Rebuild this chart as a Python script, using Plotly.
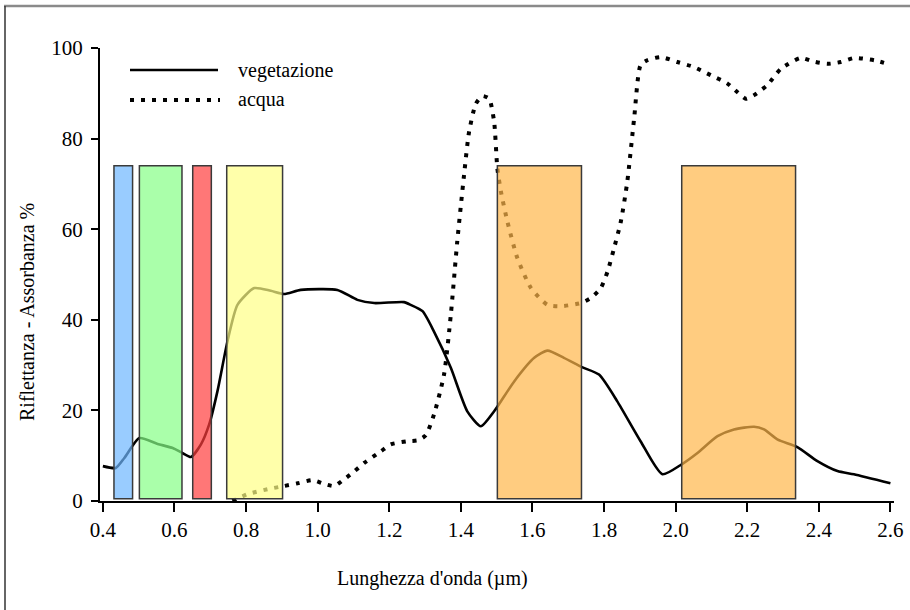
import plotly.graph_objects as go

# ---------------- data ----------------
veg_x = [0.40, 0.436, 0.46, 0.502, 0.553, 0.595, 0.622, 0.646, 0.674, 0.697, 0.72, 0.748,
         0.776, 0.823, 0.869, 0.906, 0.953, 1.055, 1.111, 1.158, 1.241, 1.26, 1.293, 1.325,
         1.372, 1.418, 1.456, 1.493, 1.549, 1.605, 1.642, 1.688, 1.74, 1.786, 1.837, 1.902,
         1.963, 2.017, 2.061, 2.117, 2.163, 2.219, 2.247, 2.284, 2.34, 2.396, 2.452, 2.498, 2.6]
veg_y = [7.7, 7.3, 9.5, 13.9, 12.6, 11.7, 10.6, 9.7, 12.5, 16.9, 24.2, 35.2,
         43.3, 47.0, 46.4, 45.7, 46.6, 46.6, 44.4, 43.7, 43.9, 43.3, 41.9, 37.4,
         29.4, 19.8, 16.5, 19.8, 26.4, 31.6, 33.2, 31.6, 29.5, 27.9, 22.0, 13.2,
         5.9, 8.1, 10.6, 14.3, 15.8, 16.4, 15.8, 13.6, 11.9, 8.8, 6.6, 5.9, 3.9]

wat_x = [0.762, 0.804, 0.86, 0.906, 0.944, 0.986, 1.013, 1.046, 1.074, 1.102, 1.13, 1.177,
         1.204, 1.251, 1.28, 1.302, 1.325, 1.353, 1.372, 1.39, 1.409, 1.423, 1.442, 1.46,
         1.479, 1.493, 1.502, 1.512, 1.53, 1.558, 1.596, 1.642, 1.679, 1.735, 1.763, 1.791,
         1.81, 1.828, 1.847, 1.865, 1.884, 1.902, 1.921, 1.958, 2.005, 2.051, 2.098, 2.144,
         2.172, 2.196, 2.219, 2.256, 2.294, 2.349, 2.386, 2.424, 2.461, 2.499, 2.555, 2.592]
wat_y = [0.0, 1.5, 2.6, 3.3, 3.9, 4.6, 3.9, 3.3, 4.8, 6.5, 8.4, 11.0,
         12.5, 13.2, 13.4, 14.5, 19.1, 27.9, 41.1, 57.3, 72.0, 81.5, 87.7, 89.4,
         88.8, 83.7, 73.4, 68.3, 61.7, 53.6, 47.0, 43.3, 43.0, 43.7, 44.8, 47.0,
         50.7, 55.8, 61.7, 70.5, 84.4, 96.2, 97.3, 98.0, 96.9, 95.8, 94.0, 92.2,
         90.3, 88.8, 89.6, 91.8, 95.4, 97.8, 97.0, 96.5, 96.9, 97.8, 97.3, 96.5]

band_start = [0.431, 0.502, 0.651, 0.746, 1.502, 2.017]
band_end = [0.483, 0.621, 0.703, 0.902, 1.737, 2.335]
band_low = 0.5
band_high = 74.0
band_colors = ["rgb(109,182,255)", "rgb(134,255,134)", "rgb(255,61,61)",
               "rgb(255,255,134)", "rgb(255,182,74)", "rgb(255,182,74)"]

x_ticks = [0.4, 0.6, 0.8, 1.0, 1.2, 1.4, 1.6, 1.8, 2.0, 2.2, 2.4, 2.6]
x_ticktext = ["0.4", "0.6", "0.8", "1.0", "1.2", "1.4", "1.6", "1.8", "2.0", "2.2", "2.4", "2.6"]
y_ticks = [0, 20, 40, 60, 80, 100]

series_names = ["vegetazione", "acqua"]
x_title = "Lunghezza d'onda (µm)"
y_title = "Riflettanza - Assorbanza %"

FONT = "Liberation Serif"
DOT = "4px,7px"

fig = go.Figure()
fig.add_trace(go.Scatter(x=veg_x, y=veg_y, mode="lines", name=series_names[0],
                         line=dict(color="black", width=2.6, shape="spline", smoothing=0.6),
                         showlegend=False))
fig.add_trace(go.Scatter(x=wat_x, y=wat_y, mode="lines", name=series_names[1],
                         line=dict(color="black", width=4, dash=DOT, shape="spline", smoothing=0.6),
                         showlegend=False))

shapes = []
for x0, x1, c in zip(band_start, band_end, band_colors):
    shapes.append(dict(type="rect", xref="x", yref="y", x0=x0, x1=x1, y0=band_low, y1=band_high,
                       fillcolor=c, opacity=0.7, line=dict(width=0), layer="above"))
    shapes.append(dict(type="rect", xref="x", yref="y", x0=x0, x1=x1, y0=band_low, y1=band_high,
                       fillcolor="rgba(0,0,0,0)", line=dict(color="#3a3a3a", width=1.5), layer="above"))

# pixel -> paper helpers (plot area: x 100..894, y 48..501)
def px(v):
    return (v - 100) / 794.0

def py(v):
    return (501 - v) / 453.0

# outer frame (top gray, left dark)
shapes.append(dict(type="line", xref="paper", yref="paper", x0=px(4), x1=px(912), y0=py(6), y1=py(6),
                   line=dict(color="#8a8a8a", width=2.5)))
shapes.append(dict(type="line", xref="paper", yref="paper", x0=px(5), x1=px(5), y0=py(6), y1=py(612),
                   line=dict(color="#333333", width=1.5)))

# legend samples
shapes.append(dict(type="line", xref="paper", yref="paper", x0=px(130), x1=px(218), y0=py(70), y1=py(70),
                   line=dict(color="black", width=2.6)))
shapes.append(dict(type="line", xref="paper", yref="paper", x0=px(130), x1=px(220), y0=py(100), y1=py(100),
                   line=dict(color="black", width=4, dash=DOT)))

annotations = [
    dict(xref="paper", yref="paper", x=px(236), y=py(70), text=series_names[0], showarrow=False,
         xanchor="left", yanchor="middle", font=dict(family=FONT, size=20, color="black")),
    dict(xref="paper", yref="paper", x=px(236), y=py(99), text=series_names[1], showarrow=False,
         xanchor="left", yanchor="middle", font=dict(family=FONT, size=20, color="black")),
    dict(xref="paper", yref="paper", x=px(432), y=py(578), text=x_title, showarrow=False,
         xanchor="center", yanchor="middle", font=dict(family=FONT, size=20, color="black")),
    dict(xref="paper", yref="paper", x=px(27), y=py(312), text=y_title, showarrow=False, textangle=-90,
         xanchor="center", yanchor="middle", font=dict(family=FONT, size=20, color="black")),
]

fig.update_layout(
    template="none",
    width=910, height=610,
    margin=dict(l=100, r=16, t=48, b=109, pad=0, autoexpand=False),
    paper_bgcolor="white", plot_bgcolor="white",
    shapes=shapes, annotations=annotations,
    font=dict(family=FONT, size=20, color="black"),
    showlegend=False,
)
fig.update_xaxes(range=[0.392, 2.610], tickvals=x_ticks, ticktext=x_ticktext, automargin=False,
                 showline=True, linecolor="black", linewidth=2, ticks="outside", ticklen=9,
                 tickwidth=2, tickcolor="black", showgrid=False, zeroline=False,
                 tickfont=dict(family=FONT, size=21))
fig.update_yaxes(range=[0, 100], tickvals=y_ticks, showline=True, linecolor="black", linewidth=2,
                 automargin=False, ticks="outside", ticklen=7, tickwidth=2, tickcolor="black",
                 showgrid=False, zeroline=False, tickfont=dict(family=FONT, size=21),
                 ticklabelstandoff=4)

fig.write_html("out.html", config={"displayModeBar": False},
               post_script="document.body.style.margin='0px';")
